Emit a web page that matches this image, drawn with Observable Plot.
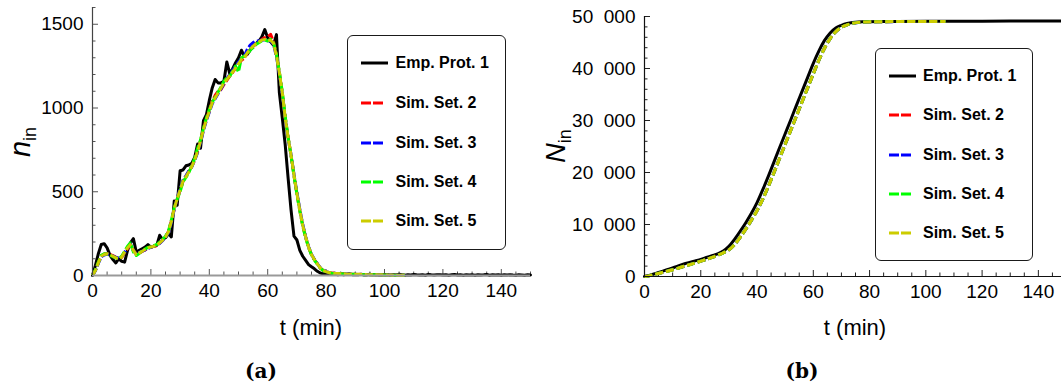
<!DOCTYPE html>
<html><head><meta charset="utf-8">
<script src="https://cdn.jsdelivr.net/npm/d3@7"></script>
<script src="https://cdn.jsdelivr.net/npm/@observablehq/plot@0.6"></script>
<style>
html,body{margin:0;padding:0;background:#fff;overflow:hidden;width:1061px;height:386px;}
#root{position:relative;width:1061px;height:386px;overflow:hidden;font-family:"Liberation Sans",Arial,sans-serif;color:#000;}
.abs{position:absolute;white-space:nowrap;line-height:1;}
.legend{position:absolute;border:1.5px solid #1a1a1a;border-radius:6px;box-sizing:border-box;background:#fff;}
.row{position:absolute;left:0;height:20px;display:flex;align-items:center;font-weight:bold;font-size:16px;}
.row svg{display:block;}
.cap{font-family:"DejaVu Serif","Liberation Serif",serif;font-weight:bold;font-size:20px;}
</style></head>
<body><div id="root"></div>
<script>
// ---------- data ----------
const seriesNames = ["Emp. Prot. 1","Sim. Set. 2","Sim. Set. 3","Sim. Set. 4","Sim. Set. 5"];
const seriesColors = ["#000000","#ff0000","#0000ff","#00ff00","#cccc00"];

// panel (a): n_in per minute
const tEmp = d3.range(0, 151);
const nEmp = [0,60,130,185,190,165,120,95,75,100,
85,80,150,195,220,140,150,160,170,185,
170,175,180,240,215,225,250,230,445,420,
625,630,655,660,670,705,785,760,925,960,
1045,1120,1170,1150,1150,1160,1275,1205,1235,1270,
1300,1345,1310,1320,1345,1370,1385,1400,1425,1468,
1420,1395,1375,1438,1090,940,780,580,390,235,
212,150,115,90,65,52,40,25,15,10,
8,12,6,9,5,8,4,7,10,5,
6,4,8,3,5,7,4,6,3,5,
4,6,2,5,3,7,4,2,5,3,
6,4,3,5,2,6,4,3,5,4,
3,5,2,4,6,3,4,2,5,3,
4,2,5,3,4,6,2,4,3,5,
2,4,3,5,3,2,4,3,2,4,
3];
const tSim = d3.range(0, 108);
const nSim2 = [0,32,78,118,128,132,126,118,110,103,
108,135,160,182,152,127,133,143,153,163,
168,174,178,193,212,232,262,325,398,458,
508,562,592,622,652,692,745,805,875,935,
985,1040,1075,1100,1110,1140,1165,1190,1212,1238,
1262,1285,1298,1328,1348,1368,1383,1393,1410,1420,
1425,1440,1395,1315,1212,1088,945,822,718,598,
488,388,298,228,168,124,94,69,45,31,
22,17,15,13,12,11,10,9,8,8,
7,7,6,6,5,5,5,4,4,3,
3,3,3,2,2,2,2,2];
const nSim3 = [0,28,72,112,122,128,124,116,108,104,
112,138,168,190,148,128,138,146,152,162,
168,176,182,192,208,228,255,315,395,462,
515,570,595,625,648,688,735,795,865,925,
975,1025,1055,1085,1115,1145,1175,1200,1225,1250,
1275,1295,1310,1350,1375,1390,1400,1400,1405,1408,
1402,1400,1380,1305,1205,1085,935,815,722,605,
495,395,305,232,172,127,96,71,46,33,
23,18,15,13,11,10,10,9,8,7,
7,6,6,6,5,5,4,4,4,3,
3,3,3,2,2,2,2,2];
const nSim4 = [0,35,80,120,130,128,120,112,105,102,
115,145,175,195,140,120,132,148,158,168,
172,178,185,200,215,235,265,330,405,455,
500,560,585,615,655,700,760,810,880,940,
990,1035,1065,1095,1125,1160,1180,1190,1220,1250,
1215,1300,1310,1320,1345,1360,1380,1390,1400,1405,
1400,1410,1390,1320,1215,1095,950,825,715,595,
485,385,295,225,168,122,92,68,44,30,
21,17,14,12,11,10,9,8,8,7,
7,6,6,5,5,5,4,4,4,3,
3,3,2,2,2,2,2,1];
const nSim5 = [0,30,75,115,125,130,125,115,105,100,
110,140,165,185,150,125,135,145,155,165,
170,175,180,195,210,230,260,320,400,460,
510,565,590,620,650,690,740,800,870,930,
980,1030,1060,1090,1120,1150,1170,1195,1215,1240,
1265,1290,1300,1330,1350,1370,1385,1395,1405,1410,
1405,1405,1385,1310,1210,1090,940,820,720,600,
490,390,300,230,170,125,95,70,45,32,
22,18,15,13,12,10,10,9,8,8,
7,7,6,6,5,5,5,4,4,4,
3,3,3,2,2,2,2,2];

// panel (b): cumulative N_in
const tCum = [0,2,4,6,8,10,12,14,16,18,20,22,24,26,28,30,32,34,36,38,40,42,44,46,48,50,52,54,56,58,60,62,64,66,68,70,72,74,76,78,80,90,100,110,120,130,140,150];
const cumEmp = [0,250,600,950,1300,1650,2050,2400,2700,3000,3300,3650,4000,4350,4900,5800,7150,8700,10350,12150,14200,16650,19250,22000,24750,27450,30150,32900,35600,38300,41000,43400,45400,46850,47800,48300,48650,48850,48950,48980,49000,49050,49080,49100,49110,49120,49130,49140];
const tCumSim = [0,2,4,6,8,10,12,14,16,18,20,22,24,26,28,30,32,34,36,38,40,42,44,46,48,50,52,54,56,58,60,62,64,66,68,70,72,74,76,78,80,85,90,95,100,107];
const cumSim2 = [0,172,452,734,1004,1303,1622,1962,2272,2603,2953,3303,3683,4104,4565,5131,6146,7547,9118,10808,12668,14818,17309,19949,22698,25433,28132,30846,33580,36280,38980,41604,43903,45762,47092,47927,48392,48702,48872,48942,48972,49002,49022,49032,49042,49052];
const cumSim3 = [0,168,448,728,998,1298,1618,1958,2268,2598,2948,3297,3677,4097,4556,5120,6135,7535,9104,10793,12653,14803,17294,19933,22682,25417,28118,30834,33570,36270,38970,41596,43897,45758,47088,47923,48388,48698,48868,48938,48968,48998,49018,49028,49038,49048];
const cumSim4 = [0,171,451,731,1001,1301,1621,1961,2271,2601,2951,3301,3681,4101,4562,5127,6142,7542,9112,10802,12662,14812,17302,19942,22692,25427,28127,30842,33577,36277,38977,41602,43902,45761,47091,47926,48391,48701,48871,48941,48971,49001,49021,49031,49041,49051];
const cumSim5 = [0,170,450,730,1000,1300,1620,1960,2270,2600,2950,3300,3680,4100,4560,5125,6140,7540,9110,10800,12660,14810,17300,19940,22690,25425,28125,30840,33575,36275,38975,41600,43900,45760,47090,47925,48390,48700,48870,48940,48970,49000,49020,49030,49040,49050];

// ticks
const xMajor = [0,20,40,60,80,100,120,140];
const xMinor = d3.range(0,151,5).filter(v => v % 20 !== 0);
const yMajorA = [0,500,1000,1500];
const yMinorA = d3.range(0,1601,100).filter(v => v % 500 !== 0);
const yMajorB = [0,10000,20000,30000,40000,50000];
const yMinorB = d3.range(0,50001,2000).filter(v => v % 10000 !== 0);

// ---------- drawing ----------
const root = document.getElementById("root");
const zip = (ts, vs) => vs.map((v, i) => ({t: ts[i], v}));

function panel(o) {
  const lines = o.series.map((s, i) => Plot.line(zip(s.t, s.v), {
    x: "t", y: "v", stroke: seriesColors[i], strokeWidth: 3,
    strokeDasharray: i === 0 ? null : o.dash,
    strokeLinecap: i === 0 ? "round" : "butt", strokeLinejoin: "round",
    curve: o.curve
  }));
  return Plot.plot({
    width: o.width, height: o.height,
    marginLeft: o.marginLeft, marginRight: o.marginRight, marginTop: o.marginTop, marginBottom: o.marginBottom,
    x: {domain: [0,150], label: null}, y: {domain: o.yDomain, label: null},
    style: {fontFamily: '"Liberation Sans", Arial, sans-serif', fontSize: "19px", color: "#000", background: "transparent", overflow: "visible"},
    marks: [
      Plot.axisX(xMinor, {tickSize: -3.5, tickFormat: () => "", stroke: o.tickColor, label: null}),
      Plot.axisX(xMajor, {tickSize: -6, tickPadding: 14, stroke: o.tickColor, fill: "#000", label: null}),
      Plot.axisY(o.yMinor, {tickSize: -3.5, tickFormat: () => "", stroke: o.tickColor, label: null}),
      Plot.axisY(o.yMajor, {tickSize: -6, tickPadding: 15, stroke: o.tickColor, fill: "#000", tickFormat: o.yFormat, label: null}),
      ...lines,
      Plot.ruleY([0], {stroke: o.xAxisColor, strokeWidth: o.xAxisWidth}),
      Plot.ruleX([0], {stroke: o.yAxisColor, strokeWidth: 1.2})
    ]
  });
}

const pa = panel({
  width: 545, height: 305, marginLeft: 92, marginRight: 15, marginTop: 7, marginBottom: 30,
  yDomain: [0,1600], yMajor: yMajorA, yMinor: yMinorA, yFormat: d => String(d),
  tickColor: "#555", xAxisColor: "#999", xAxisWidth: 1.8, yAxisColor: "#444", curve: "linear", dash: "8,2.5",
  series: [{t: tEmp, v: nEmp},{t: tSim, v: nSim2},{t: tSim, v: nSim3},{t: tSim, v: nSim4},{t: tSim, v: nSim5}]
});
pa.style.position = "absolute"; pa.style.left = "0px"; pa.style.top = "0px";
root.appendChild(pa);

const fmtB = d => d === 0 ? "0" : d3.format(",")(d).replace(",", "\u00a0\u00a0");
const pb = panel({
  width: 536, height: 306, marginLeft: 104, marginRight: 10, marginTop: 16, marginBottom: 30,
  yDomain: [0,50000], yMajor: yMajorB, yMinor: yMinorB, yFormat: fmtB,
  tickColor: "#222", xAxisColor: "#111", xAxisWidth: 1.2, yAxisColor: "#111", curve: "monotone-x", dash: "8,3",
  series: [{t: tCum, v: cumEmp},{t: tCumSim, v: cumSim2},{t: tCumSim, v: cumSim3},{t: tCumSim, v: cumSim4},{t: tCumSim, v: cumSim5}]
});
pb.style.position = "absolute"; pb.style.left = "540px"; pb.style.top = "0px";
root.appendChild(pb);

// text labels
function addDiv(html, css, cls) {
  const d = document.createElement("div");
  d.className = "abs " + (cls || "");
  d.innerHTML = html;
  Object.assign(d.style, css);
  root.appendChild(d);
  return d;
}
addDiv("t (min)", {left: "311px", top: "328px", fontSize: "22px", transform: "translate(-50%,-50%)"});
addDiv("t (min)", {left: "855px", top: "328px", fontSize: "22px", transform: "translate(-50%,-50%)"});
addDiv("(a)", {left: "261px", top: "371px", transform: "translate(-50%,-50%)"}, "cap");
addDiv("(b)", {left: "802px", top: "371px", transform: "translate(-50%,-50%)"}, "cap");
addDiv('<i style="font-size:29px">n</i><span style="font-size:18px;position:relative;top:6px">in</span>',
  {left: "20px", top: "142px", transform: "translate(-50%,-50%) rotate(-90deg)"});
addDiv('<i style="font-size:27px">N</i><span style="font-size:18px;position:relative;top:6px">in</span>',
  {left: "556px", top: "146px", transform: "translate(-50%,-50%) rotate(-90deg)"});

// legends
function legend(left, top, w, h, rowY, swX, txX) {
  const box = document.createElement("div");
  box.className = "legend";
  Object.assign(box.style, {left: left + "px", top: top + "px", width: w + "px", height: h + "px"});
  seriesNames.forEach((name, i) => {
    const r = document.createElement("div");
    r.className = "row";
    r.style.top = (rowY[i] - 10) + "px";
    r.style.left = swX + "px";
    const sw = i === 0
      ? `<svg width="27" height="6"><line x1="0" y1="3" x2="27" y2="3" stroke="${seriesColors[i]}" stroke-width="3"/></svg>`
      : `<svg width="27" height="6"><line x1="0" y1="3" x2="22" y2="3" stroke="${seriesColors[i]}" stroke-width="3" stroke-dasharray="10,2"/></svg>`;
    r.innerHTML = sw + `<span style="margin-left:${txX - swX - 27}px">${name}</span>`;
    box.appendChild(r);
  });
  root.appendChild(box);
}
legend(346.5, 34.5, 159, 215, [27, 67, 107, 146.5, 185.5], 13, 48);
legend(874.5, 47.5, 158.5, 213, [27, 66.5, 106, 145, 184.5], 13, 47.5);
</script>
</body></html>
